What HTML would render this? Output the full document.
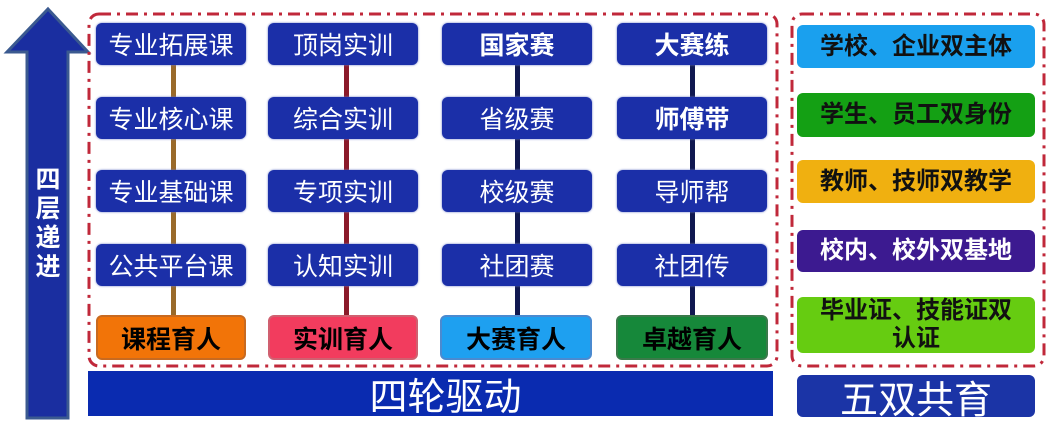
<!DOCTYPE html>
<html><head><meta charset="utf-8"><style>
body{margin:0;width:1052px;height:429px;background:#fff;position:relative;overflow:hidden;font-family:"Liberation Sans","Noto Sans CJK SC",sans-serif}
.b{position:absolute;border-radius:6px;display:flex;align-items:center;justify-content:center;text-align:center;box-sizing:border-box}
.n{background:#1b2fa8;color:#fff;font-size:25px;width:150px;height:42px;box-shadow:0 0 2px #6a7ac8}
.bt{font-weight:bold;color:#000;font-size:25px;width:150px;height:45px}
.r{width:238px;left:797px;font-weight:bold;font-size:24px;color:#111;line-height:28px}
.l{position:absolute;width:5px;top:65px;height:252px}
</style></head><body>
<svg width="1052" height="429" style="position:absolute;left:0;top:0">
<polygon points="48,9 88,52 68,52 68,418 27,418 27,52 7,52" fill="#1a2ea0" stroke="#3b5a90" stroke-width="3"/>
<rect x="89" y="14" width="688" height="352" rx="10" fill="none" stroke="#c0283a" stroke-width="3" stroke-dasharray="12,6,3,6"/>
<rect x="792" y="14" width="252" height="352" rx="10" fill="none" stroke="#c0283a" stroke-width="3" stroke-dasharray="12,6,3,6"/>
</svg>
<div style="position:absolute;left:30px;top:166px;width:36px;color:#fff;font-weight:bold;font-size:25px;line-height:29px;text-align:center">四<br>层<br>递<br>进</div>
<div class="l" style="left:171px;background:#9a6a2a"></div>
<div class="l" style="left:344px;background:#8b1a2a"></div>
<div class="l" style="left:515px;background:#101850"></div>
<div class="l" style="left:690px;background:#101850"></div>
<div class="b n" style="left:96px;top:23px">专业拓展课</div>
<div class="b n" style="left:96px;top:97px">专业核心课</div>
<div class="b n" style="left:96px;top:170px">专业基础课</div>
<div class="b n" style="left:96px;top:244px">公共平台课</div>
<div class="b n" style="left:268px;top:23px">顶岗实训</div>
<div class="b n" style="left:268px;top:97px">综合实训</div>
<div class="b n" style="left:268px;top:170px">专项实训</div>
<div class="b n" style="left:268px;top:244px">认知实训</div>
<div class="b n" style="left:442px;top:23px;font-weight:bold;align-items:flex-start;padding-top:3px">国家赛</div>
<div class="b n" style="left:442px;top:97px;align-items:flex-start;padding-top:3px">省级赛</div>
<div class="b n" style="left:442px;top:170px;align-items:flex-start;padding-top:3px">校级赛</div>
<div class="b n" style="left:442px;top:244px">社团赛</div>
<div class="b n" style="left:617px;top:23px;font-weight:bold">大赛练</div>
<div class="b n" style="left:617px;top:97px;font-weight:bold">师傅带</div>
<div class="b n" style="left:617px;top:170px">导师帮</div>
<div class="b n" style="left:617px;top:244px">社团传</div>
<div class="b bt" style="left:96px;top:315px;background:#f27408;border:2px solid #c86a20">课程育人</div>
<div class="b bt" style="left:268px;top:315px;background:#f23c5e;border:2px solid #d06070;align-items:flex-start;padding-top:3px">实训育人</div>
<div class="b bt" style="left:440px;top:315px;width:152px;background:#1ea0f0;border:2px solid #4a8ad0">大赛育人</div>
<div class="b bt" style="left:616px;top:315px;width:152px;background:#16883a;border:2px solid #3a7a4a">卓越育人</div>
<div class="b" style="left:88px;top:371px;width:685px;height:45px;border-radius:0;background:#0a2bb0;color:#fff;font-size:38px;padding-left:30px">四轮驱动</div>
<div class="b r" style="top:25px;height:43px;background:#1aa0ee">学校、企业双主体</div>
<div class="b r" style="top:93px;height:44px;background:#14a014">学生、员工双身份</div>
<div class="b r" style="top:160px;height:43px;background:#f0b010">教师、技师双教学</div>
<div class="b r" style="top:230px;height:42px;background:#3c1a90;color:#fff">校内、校外双基地</div>
<div class="b r" style="top:297px;height:56px;background:#66cc11">毕业证、技能证双<br>认证</div>
<div class="b" style="left:797px;top:375px;width:238px;height:42px;background:#1b34a6;color:#fff;font-size:38px">五双共育</div>
</body></html>
